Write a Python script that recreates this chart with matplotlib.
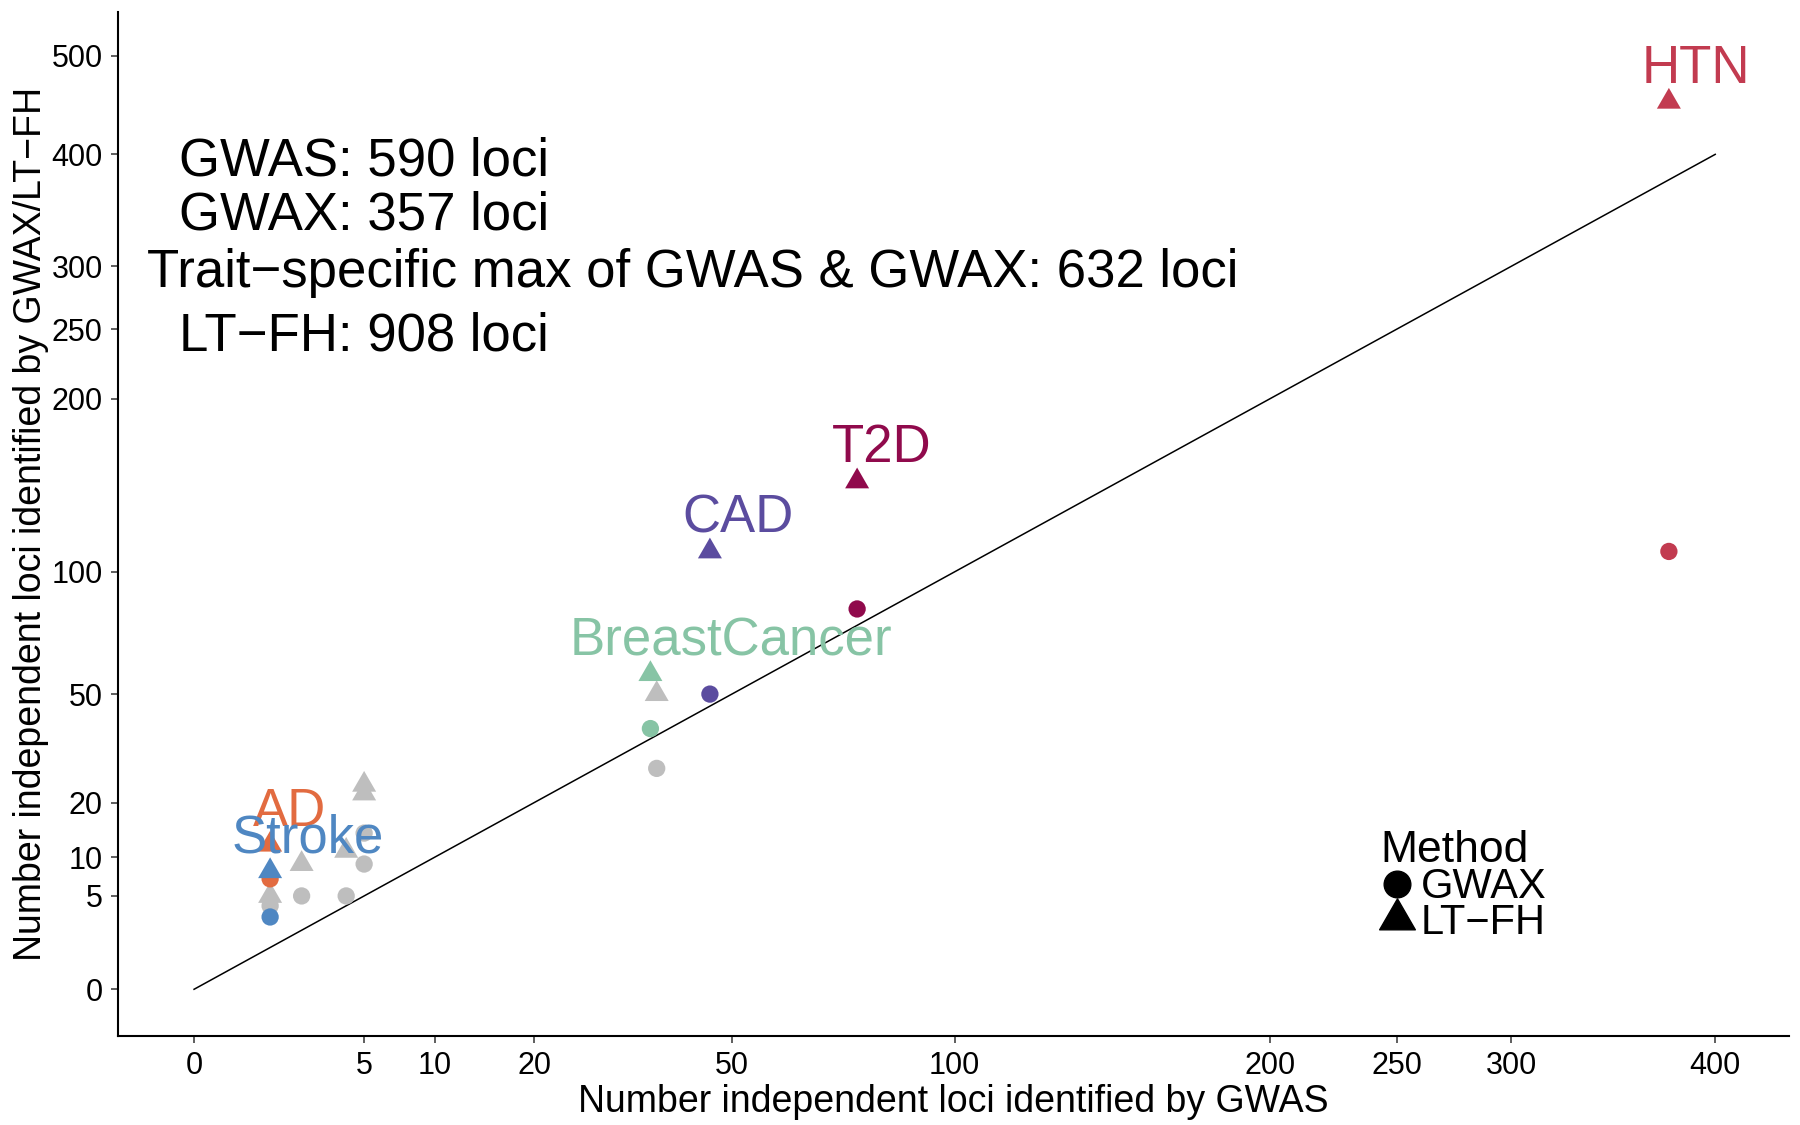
import numpy as np
import matplotlib
matplotlib.use("Agg")
import matplotlib.pyplot as plt
from matplotlib.path import Path
from matplotlib.lines import Line2D

plt.rcParams['font.family'] = ['Liberation Sans', 'DejaVu Sans']

# ---------------- data ----------------
traits = ['HTN', 'T2D', 'CAD', 'BreastCancer', 'Other A', 'AD', 'Stroke',
          'Other B', 'Other C', 'Other D', 'Other E', 'Other F']
gwas = [376, 76, 46, 36, 37, 1, 1, 1, 2, 4, 5, 5]
gwax = [110, 83, 50, 39, 28, 7, 3, 4, 5, 5, 14, 9]
ltfh = [452, 148, 110, 57, 50, 12, 8, 5, 9, 11, 24, 22]
labelled = ['HTN', 'T2D', 'CAD', 'BreastCancer', 'AD', 'Stroke']

diag = [0, 400]

x_ticks = [0, 5, 10, 20, 50, 100, 200, 250, 300, 400]
y_ticks = [0, 5, 10, 20, 50, 100, 200, 250, 300, 400, 500]

summary_lines = ['GWAS: 590 loci', 'GWAX: 357 loci',
                 'Trait\u2212specific max of GWAS & GWAX: 632 loci',
                 'LT\u2212FH: 908 loci']
summary_y = [400, 350, 300, 250]
summary_x = [5, 5, 43, 5]

# ---------------- styles ----------------
colors = {'HTN': '#C23B50', 'T2D': '#900A4C', 'CAD': '#5B4C9F',
          'BreastCancer': '#87C4A5', 'AD': '#E26B40', 'Stroke': '#4F87C2'}
gray = '#BEBEBE'
# label offsets (pixels) relative to the LT-FH marker (horizontal shift of label centre)
label_offsets = {'HTN': 27, 'T2D': 25, 'CAD': 28, 'BreastCancer': 81,
                 'AD': 19, 'Stroke': 38}


def fwd(v):
    v = np.asarray(v, dtype=float)
    return np.sign(v) * np.sqrt(np.abs(v))


def inv(v):
    v = np.asarray(v, dtype=float)
    return np.sign(v) * v ** 2


tri = Path([(0, 1), (-np.sqrt(3) / 2, -0.5), (np.sqrt(3) / 2, -0.5), (0, 1)],
           [Path.MOVETO, Path.LINETO, Path.LINETO, Path.CLOSEPOLY])

W, H = 1800, 1125
fig = plt.figure(figsize=(W / 100, H / 100), dpi=100)
ax = fig.add_axes([118 / W, (H - 1035.5) / H, (1789 - 118) / W, (1035.5 - 12) / H])
ax.set_xscale('function', functions=(fwd, inv))
ax.set_yscale('function', functions=(fwd, inv))
ax.set_xlim(-1.0, 20.97 ** 2)
ax.set_ylim(-1.107 ** 2, 23.41 ** 2)

ax.plot(diag, diag, color='black', lw=1.1, zorder=2)

cols = [colors.get(t, gray) for t in traits]
order_gray = [i for i, t in enumerate(traits) if t not in colors]
order_col = [i for i, t in enumerate(traits) if t in colors]
for idx in (order_gray, order_col):
    ax.scatter([gwas[i] for i in idx], [gwax[i] for i in idx], s=155, marker='o',
               c=[cols[i] for i in idx], linewidths=0, zorder=3)
    ax.scatter([gwas[i] for i in idx], [ltfh[i] for i in idx], s=398, marker=tri,
               c=[cols[i] for i in idx], linewidths=0, zorder=3)

pt = 72 / 100
for t in labelled:
    i = traits.index(t)
    ax.annotate(t, (gwas[i], ltfh[i]), xytext=(label_offsets[t] * pt, 19 * pt),
                textcoords='offset points', ha='center', va='baseline',
                fontsize=38, color=colors[t], zorder=5)

for s, xx, yy in zip(summary_lines, summary_x, summary_y):
    ax.annotate(s, (xx, yy), xytext=(0, -7 * pt), textcoords='offset points',
                ha='center', va='center', fontsize=38, color='black')

for side in ['top', 'right']:
    ax.spines[side].set_visible(False)
for side in ['left', 'bottom']:
    ax.spines[side].set_linewidth(1.5)
ax.set_xticks(x_ticks)
ax.set_xticklabels([str(v) for v in x_ticks])
ax.set_yticks(y_ticks)
ax.set_yticklabels([str(v) for v in y_ticks])
ax.tick_params(axis='both', length=5, width=1.1, color='#333333',
               labelsize=22, labelcolor='black', pad=6)
ax.minorticks_off()

ax.set_xlabel('Number independent loci identified by GWAS', fontsize=27, labelpad=2)
ax.set_ylabel('Number independent loci identified by GWAX/LT\u2212FH', fontsize=27, labelpad=2)

handles = [Line2D([], [], ls='none', marker='o', color='black', markersize=19.2),
           Line2D([], [], ls='none', marker=tri, color='black', markersize=29.7)]
leg = ax.legend(handles, ['GWAX', 'LT\u2212FH'], title='Method', loc='upper left',
                bbox_to_anchor=(1372 / W, 1 - 822 / H), bbox_transform=fig.transFigure,
                frameon=False, fontsize=30, title_fontsize=32, handlelength=0.8,
                handletextpad=0.17, labelspacing=-0.1, borderpad=0.2, borderaxespad=0,
                alignment='left')

fig.savefig('out.png', dpi=100)
